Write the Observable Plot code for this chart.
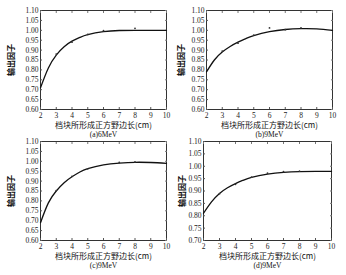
<!DOCTYPE html>
<html><head><meta charset="utf-8">
<script src="https://cdn.jsdelivr.net/npm/d3@7"></script>
<script src="https://cdn.jsdelivr.net/npm/@observablehq/plot@0.6"></script>
<style>
body{margin:0;background:#fff;}
#wrap{position:relative;width:346px;height:275px;overflow:hidden;background:#fff;}
.p{position:absolute;}
</style></head>
<body><div id="wrap"></div>
<script>
// Field side lengths (cm) used for the fitted curves
const curveX = [2, 2.5, 3, 3.5, 4, 4.5, 5, 6, 7, 8, 9, 10];
const curveA = [0.71, 0.81, 0.875, 0.917, 0.945, 0.964, 0.978, 0.993, 0.999, 1.000, 1.000, 1.000];
const curveB = [0.79, 0.85, 0.89, 0.918, 0.94, 0.958, 0.973, 0.993, 1.004, 1.008, 1.007, 1.000];
const curveC = [0.69, 0.79, 0.85, 0.892, 0.922, 0.946, 0.963, 0.982, 0.991, 0.995, 0.994, 0.99];
const curveD = [0.81, 0.856, 0.89, 0.913, 0.93, 0.944, 0.955, 0.968, 0.975, 0.978, 0.979, 0.979];
// Measured points
const ptsXA = [3, 4, 5, 6, 8];
const ptsYA = [0.88, 0.94, 0.979, 0.998, 1.01];
const ptsXB = [3, 4, 5, 6, 7, 8];
const ptsYB = [0.895, 0.935, 0.976, 1.012, 1.003, 1.012];
const ptsXC = [3, 4, 5, 7, 8];
const ptsYC = [0.852, 0.924, 0.962, 0.994, 0.997];
const ptsXD = [3, 4, 5, 6, 7, 8];
const ptsYD = [0.889, 0.927, 0.956, 0.972, 0.978, 0.98];
// Tick labels
const xTicks = [2, 3, 4, 5, 6, 7, 8, 9, 10];
const yTicksABC = [0.60, 0.65, 0.70, 0.75, 0.80, 0.85, 0.90, 0.95, 1.00, 1.05, 1.10];
const yTicksD = [0.70, 0.75, 0.80, 0.85, 0.90, 0.95, 1.00, 1.05, 1.10];
const xTitle = "档块所形成正方野边长(cm)";
const yTitle = "输出因子";
const captions = ["(a)6MeV", "(b)9MeV", "(c)9MeV", "(d)9MeV"];

const panels = [
  {cx: curveA, px: ptsXA, py: ptsYA, dom: [0.6, 1.1], yt: yTicksABC, cap: captions[0], left: 0, top: 0, ml: 40, mr: 7, lab: 12},
  {cx: curveB, px: ptsXB, py: ptsYB, dom: [0.6, 1.1], yt: yTicksABC, cap: captions[1], left: 173, top: 0, ml: 33, mr: 14, lab: 9},
  {cx: curveC, px: ptsXC, py: ptsYC, dom: [0.6, 1.1], yt: yTicksABC, cap: captions[2], left: 0, top: 131, ml: 40, mr: 7, lab: 12},
  {cx: curveD, px: ptsXD, py: ptsYD, dom: [0.7, 1.1], yt: yTicksD, cap: captions[3], left: 173, top: 131, ml: 30, mr: 15, lab: 10}
];

const wrap = document.getElementById("wrap");
for (const p of panels) {
  const line = curveX.map((x, i) => ({x, y: p.cx[i]}));
  const pts = p.px.map((x, i) => ({x, y: p.py[i]}));
  const chart = Plot.plot({
    width: 173, height: 137,
    marginLeft: p.ml, marginRight: p.mr, marginTop: 10, marginBottom: 28,
    style: {fontFamily: "Liberation Serif, serif", fontSize: "7.5px", color: "#222", background: "transparent", overflow: "visible"},
    x: {domain: [2, 10]},
    y: {domain: p.dom},
    marks: [
      Plot.frame({stroke: "#333", strokeWidth: 1}),
      Plot.axisX({ticks: xTicks, tickSize: -2, tickPadding: 5, label: null, stroke: "#555", tickFormat: d => d}),
      Plot.axisX({ticks: xTicks, anchor: "top", tickSize: -2, tickFormat: () => "", label: null, stroke: "#777"}),
      Plot.axisY({ticks: p.yt, tickSize: -2, tickPadding: 4, label: null, stroke: "#555", tickFormat: d3.format(".2f")}),
      Plot.axisY({ticks: p.yt, anchor: "right", tickSize: -2, tickFormat: () => "", label: null, stroke: "#777"}),
      Plot.axisY({ticks: p.yt, tickSize: 0, tickFormat: () => "", label: yTitle, labelArrow: "none", labelAnchor: "center", labelOffset: p.ml - p.lab + 4, fontFamily: "Noto Sans CJK SC", fontSize: 8, fontWeight: "bold", fill: "#111"}),
      Plot.line(line, {x: "x", y: "y", curve: "natural", stroke: "#111", strokeWidth: 1.3}),
      Plot.dot(pts, {x: "x", y: "y", r: 0.9, fill: "#333", stroke: "none"}),
      Plot.text([xTitle], {frameAnchor: "bottom", dy: 15.5, lineAnchor: "middle", text: d => d, fontFamily: "Noto Sans CJK SC", fontSize: 8, fill: "#111"}),
      Plot.text([p.cap], {frameAnchor: "bottom", dy: 25, lineAnchor: "middle", text: d => d, fontFamily: "Liberation Serif", fontSize: 7.5, fill: "#111"})
    ]
  });
  chart.classList.add("p");
  chart.style.left = p.left + "px";
  chart.style.top = p.top + "px";
  wrap.appendChild(chart);
}
</script>
</body></html>
